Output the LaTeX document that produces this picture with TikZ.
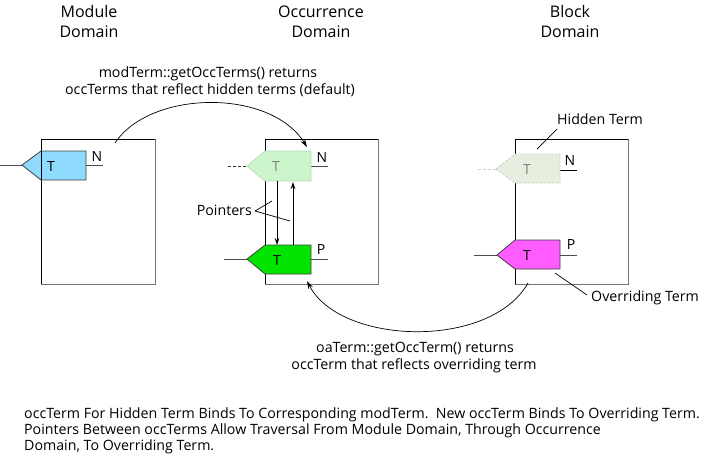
\documentclass[tikz,border=0pt]{standalone}
\usepackage{fontspec}
\setmainfont{Open Sans}
\usetikzlibrary{arrows.meta}
\definecolor{modblue}{HTML}{8FDAFF}
\definecolor{hidgreen}{HTML}{CCF5CC}
\definecolor{hidgreenb}{HTML}{B8DDB8}
\definecolor{blkhid}{HTML}{E6EEE0}
\definecolor{blkhidb}{HTML}{C4D4BC}
\definecolor{occgreen}{HTML}{00E400}
\definecolor{ovmag}{HTML}{FF5CFF}
\tikzset{
  ttl/.style={font=\fontsize{16}{20}\selectfont, inner sep=0pt, anchor=base},
  txt/.style={font=\fontsize{14.2}{16}\selectfont, inner sep=0pt, anchor=base},
  small/.style={font=\fontsize{14}{16}\selectfont, inner sep=0pt},
  termedge/.style={draw=black!75, line width=0.8pt},
  wire/.style={draw=black!70, line width=0.8pt},
  ptr/.style={-{Stealth[length=7pt,width=4.5pt]}, line width=0.7pt},
  leader/.style={line width=0.7pt},
}
\begin{document}
\begin{tikzpicture}[x=1pt,y=-1pt]
\useasboundingbox (0,0) rectangle (710,459);
% domain titles
\node[ttl] (tmod1) at (89,17) {Module};
\node[ttl] (tmod2) at (89,37) {Domain};
\node[ttl] (tocc1) at (321,17) {Occurrence};
\node[ttl] (tocc2) at (321,37) {Domain};
\node[ttl] (tblk1) at (570,17) {Block};
\node[ttl] (tblk2) at (570,37) {Domain};
% boxes
\foreach \nm/\xl/\xr in {mbox/41/155, obox/265/378, bbox/515/628}{
  \coordinate (\nm-nw) at (\xl,139);
  \coordinate (\nm-se) at (\xr,284);
  \draw[black, line width=0.8pt] (\xl,284) -- (\xl,139) -- (\xr,139);
  \draw[black!55, line width=1pt] (\xr,139) -- (\xr,284) -- (\xl,284);
}
% module term
\draw[wire] (0,165) -- (22,165);
\draw[wire] (86,165) -- (103,165);
\filldraw[fill=modblue, termedge] (22,165) -- (41,151) -- (86,151) -- (86,180) -- (41,180) -- cycle;
\draw[black, line width=0.6pt] (41,151) -- (41,180);
\node[small] (mT) at (51,166) {T};
\node[small] (mN) at (97,156) {N};
% occurrence hidden term
\draw[black!80, dashed, dash pattern=on 3pt off 2pt, line width=0.7pt] (228,166) -- (247,166);
\draw[wire] (311,166) -- (328,166);
\filldraw[fill=hidgreen, draw=hidgreenb, line width=0.8pt] (247,166) -- (265,151) -- (311,151) -- (311,181) -- (265,181) -- cycle;
\node[small, text=black!50] (oT1) at (276,166) {T};
\node[small] (oN) at (322,157) {N};
\coordinate (oh-s1) at (277,181);
\coordinate (oh-s2) at (293,182);
% occurrence P term
\draw[wire] (224,259) -- (247,259);
\draw[wire] (311,259) -- (328,259);
\filldraw[fill=occgreen, termedge] (247,259) -- (265,245) -- (311,245) -- (311,274) -- (265,274) -- cycle;
\node[small] (oT2) at (277,260) {T};
\node[small] (oP) at (321,249) {P};
\coordinate (op-n1) at (277,245);
\coordinate (op-n2) at (293,245);
% pointers
\draw[ptr] (oh-s1) -- (op-n1);
\draw[ptr] (op-n2) -- (oh-s2);
\node[txt, anchor=base east] (ptrs) at (252,215) {Pointers};
\coordinate (pv) at (255,211);
\coordinate (pl1) at (272,201);
\coordinate (pl2) at (290,221);
\draw[leader] (pv) -- (pl1);
\draw[leader] (pv) -- (pl2);
% block hidden term
\draw[blkhidb, dashed, dash pattern=on 3pt off 2pt, line width=0.8pt] (478,169) -- (496,169);
\draw[black, line width=0.8pt] (560,170) -- (577,170);
\filldraw[fill=blkhid, draw=blkhidb, dashed, dash pattern=on 2.5pt off 1.5pt, line width=0.8pt] (496,169) -- (515,154) -- (560,154) -- (560,183) -- (515,183) -- cycle;
\node[small, text=black!50] (bT1) at (527,169) {T};
\node[small] (bN) at (570,160) {N};
% block P term
\draw[wire] (474,255) -- (497,255);
\draw[wire] (560,255) -- (577,255);
\filldraw[fill=ovmag, termedge] (497,255) -- (515,240) -- (560,240) -- (560,269) -- (515,269) -- cycle;
\node[small] (bT2) at (527,255) {T};
\node[small] (bP) at (571,244) {P};
% callouts
\node[txt, anchor=base west] (hid) at (557,124) {Hidden Term};
\coordinate (hidpt) at (537,149);
\coordinate (hidl) at (557,129);
\draw[leader] (hidl) -- (hidpt);
\node[txt, anchor=base west] (ovr) at (591,301) {Overriding Term};
\coordinate (ovpt) at (555,273);
\coordinate (ovl) at (587,295);
\draw[leader] (ovl) -- (ovpt);
% curves
\coordinate (c1s) at (115,143);
\coordinate (c1e) at (307,147);
\draw[-{Stealth[length=8pt,width=5pt]}, line width=0.7pt] (c1s) .. controls (150,90) and (270,88) .. (c1e);
\node[txt] (top1) at (208,77) {modTerm::getOccTerms() returns};
\node[txt] (top2) at (210,94) {occTerms that reflect hidden terms (default)};
\coordinate (c2s) at (528,283);
\coordinate (c2e) at (307,281);
\draw[-{Stealth[length=8pt,width=5pt]}, line width=0.7pt] (c2s) .. controls (490,350) and (340,345) .. (c2e);
\node[txt] (bot1) at (415,352) {oaTerm::getOccTerm() returns};
\node[txt] (bot2) at (414,369) {occTerm that reflects overriding term};
% bottom text
\node[txt, anchor=base west] (note1) at (24,418) {occTerm For Hidden Term Binds To Corresponding modTerm.\ \ New occTerm Binds To Overriding Term.};
\node[txt, anchor=base west] (note2) at (24,434) {Pointers Between occTerms Allow Traversal From Module Domain, Through Occurrence};
\node[txt, anchor=base west] (note3) at (24,450) {Domain, To Overriding Term.};
\end{tikzpicture}
\end{document}
